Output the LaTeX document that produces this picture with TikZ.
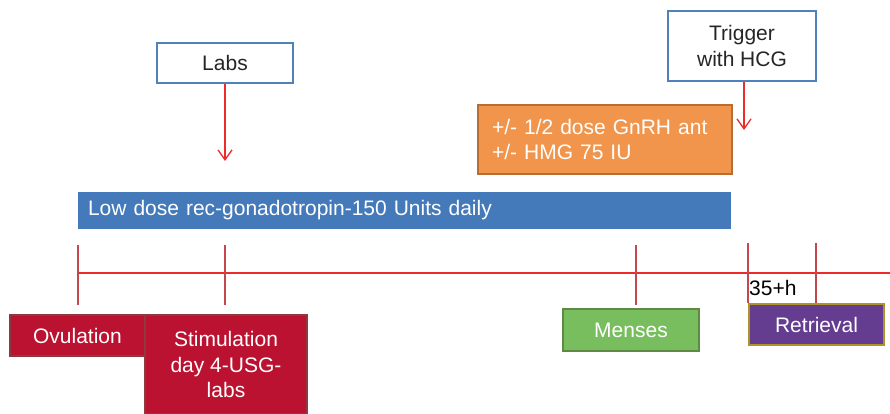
\documentclass[tikz,border=0pt]{standalone}
\usepackage{fontspec}
\setmainfont{Liberation Sans}
\usetikzlibrary{arrows.meta,positioning,calc}
\definecolor{boxblue}{HTML}{4F81BD}
\definecolor{barblue}{HTML}{4479BA}
\definecolor{dosefill}{HTML}{F0954B}
\definecolor{doseline}{HTML}{B86D33}
\definecolor{crimson}{HTML}{BA1230}
\definecolor{crimsonline}{HTML}{8C3A3E}
\definecolor{mensfill}{HTML}{78BE5F}
\definecolor{mensline}{HTML}{5E8A45}
\definecolor{retrfill}{HTML}{643C90}
\definecolor{retrline}{HTML}{B0922A}
\definecolor{lined}{HTML}{EE2A2A}
\definecolor{tickred}{HTML}{C4474B}
\tikzset{note/.style={draw=boxblue,fill=white,line width=1.5pt,align=center,
  inner sep=0pt,text=black!85},
  event/.style={draw=crimsonline,fill=crimson,line width=1.5pt,align=center,
  inner sep=0pt,text=white},
  arrow/.style={-{Straight Barb[length=10pt,width=14pt,line width=1.3pt]},line width=1.5pt,draw=lined},
  tick/.style={line width=1.5pt,draw=tickred}}

\begin{document}
\begin{tikzpicture}[x=1pt,y=-1pt,font=\fontsize{21}{25.5}\selectfont]
\useasboundingbox (0,0) rectangle (890,414);
% top notes
\node[note,minimum width=136pt,minimum height=40pt] (labs) at (225,63) {Labs};
\node[note,minimum width=148pt,minimum height=70pt] (trig) at (742,46) {Trigger\\with HCG};
\node[draw=doseline,fill=dosefill,line width=1.5pt,text=white,align=left,
  text width=226pt,inner xsep=14pt,inner ysep=0pt,minimum height=69pt] (dose) at (605,139.5)
  {+/- 1/2 dose GnRH ant\\+/- HMG 75 IU};
\node[fill=barblue,text=white,align=left,text width=633pt,inner xsep=10pt,inner ysep=0pt,
  minimum height=37pt] (bar) at (404.5,210.5) {Low dose rec-gonadotropin-150 Units daily};
\coordinate (labs-tip) at (225,161);
\coordinate (trig-tip) at (744,130);
\draw[arrow] (labs.south)--(labs-tip);
\draw[arrow] (trig.south -| trig-tip)--(trig-tip);
% timeline
\coordinate (tl-start) at (78,273);
\coordinate (tl-end) at (890,273);
\draw[line width=1.5pt,draw=lined] (tl-start)--(tl-end);
\foreach \x in {78,225,636} \draw[tick] (\x,245)--(\x,305);
\foreach \x in {748,816} \draw[tick] (\x,243)--(\x,303);
\node[anchor=west,inner sep=0pt,text=black] (hours) at (749,288) {35+h};
% events
\node[event,minimum width=135pt,minimum height=41pt] (ovul) at (77.5,335.5) {Ovulation};
\node[event,minimum width=162pt,minimum height=99pt] (stim) at (226,364.5) {Stimulation\\day 4-USG-\\labs};
\node[draw=mensline,fill=mensfill,line width=1.5pt,text=white,inner sep=0pt,
  minimum width=136pt,minimum height=42pt] (mens) at (631,330) {Menses};
\node[draw=retrline,fill=retrfill,line width=1.5pt,text=white,inner sep=0pt,
  minimum width=135pt,minimum height=41pt] (retr) at (816.5,324.5) {Retrieval};
\end{tikzpicture}
\end{document}
